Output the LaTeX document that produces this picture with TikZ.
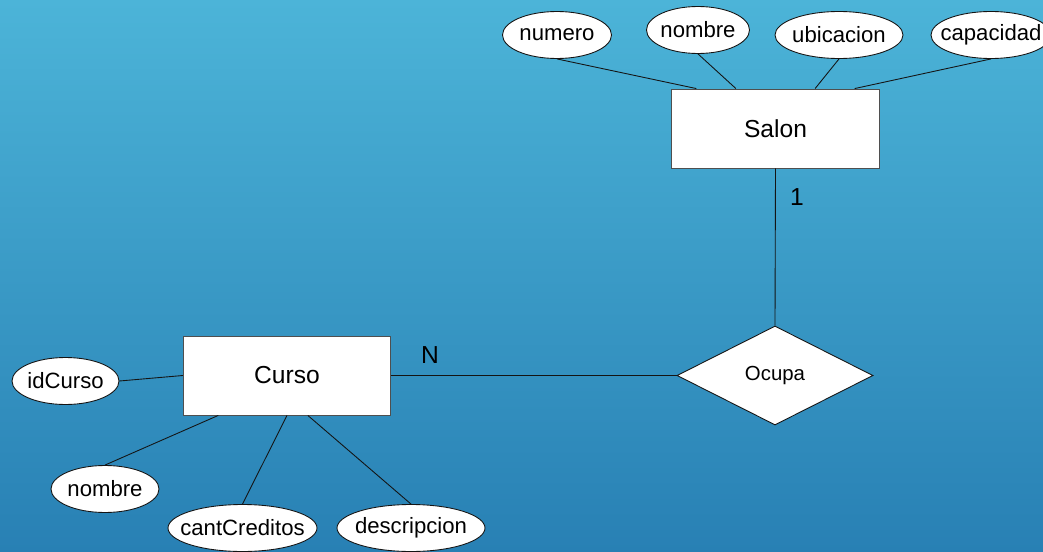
\documentclass[tikz,border=0pt]{standalone}
\usepackage{fontspec}
\setmainfont{Liberation Sans}
\usetikzlibrary{shapes.geometric,calc}
\definecolor{skytop}{RGB}{76,180,216}
\definecolor{skybot}{RGB}{40,128,180}
\definecolor{ink}{RGB}{20,20,20}
\tikzset{
  entity/.style={draw=ink!75,fill=white,line width=0.5pt,inner sep=0pt,
    minimum width=41.5mm,minimum height=15.8mm,font=\fontsize{14}{16}\selectfont},
  attr/.style={ellipse,draw=ink,fill=white,line width=0.5pt,inner sep=0pt,
    minimum width=#1,minimum height=9.4mm,font=\fontsize{12.6}{14}\selectfont,
    execute at begin node={\hbox to 0pt\bgroup\hss},
    execute at end node={\hss\egroup}},
  attr/.default=21.6mm,
  rel/.style={diamond,draw=ink,fill=white,line width=0.5pt,inner sep=0pt,aspect=1.98,
    minimum width=39.2mm,minimum height=19.8mm,font=\fontsize{11.6}{13}\selectfont},
  link/.style={draw=ink,line width=0.5pt},
  card/.style={font=\fontsize{14}{16}\selectfont,inner sep=0pt},
}

\begin{document}
\begin{tikzpicture}[x=0.2mm,y=-0.2mm]
  \useasboundingbox (0,0) rectangle (1043,552);
  \shade[top color=skytop,bottom color=skybot] (0,0) rectangle (1043,552);
  % entities and relation
  \node[entity] (salon) at (775.5,128.5) {Salon};
  \node[entity] (curso) at (287,375.5) {Curso};
  \node[rel] (ocupa) at (775,375.5) {Ocupa};
  % attributes of Salon
  \node[attr=21.8mm] (numero) at (557,35) {numero};
  \node[attr=20.6mm] (nombreS) at (698,30) {nombre};
  \node[attr=25.6mm] (ubicacion) at (839,35) {ubicacion};
  \node[attr=24mm] (capacidad) at (991,35) {capacidad};
  % attributes of Curso
  \node[attr=21.4mm] (idCurso) at (65.5,381) {idCurso};
  \node[attr=21.6mm] (nombreC) at (105,489) {nombre};
  \node[attr=29.8mm] (cantCreditos) at (242.5,528) {cantCreditos};
  \node[attr=29.6mm] (descripcion) at (411,528) {descripcion};
  % connectors
  \draw[link] (numero.south) -- ($(salon.north west)!0.12!(salon.north east)$);
  \draw[link] (nombreS.south) -- ($(salon.north west)!0.31!(salon.north east)$);
  \draw[link] (ubicacion.south) -- ($(salon.north west)!0.69!(salon.north east)$);
  \draw[link] (capacidad.south) -- ($(salon.north west)!0.88!(salon.north east)$);
  \draw[link] (idCurso.east) -- (curso.west);
  \draw[link] (nombreC.north) -- ($(curso.south west)!0.17!(curso.south east)$);
  \draw[link] (cantCreditos.north) -- (curso.south);
  \draw[link] (descripcion.north) -- ($(curso.south west)!0.6!(curso.south east)$);
  \draw[link] (salon.south) -- (ocupa.north);
  \draw[link] (curso.east) -- (ocupa.west);
  % cardinalities
  \node[card] (cardS) at (797,197) {1};
  \node[card] (cardC) at (430,355) {N};
\end{tikzpicture}
\end{document}
